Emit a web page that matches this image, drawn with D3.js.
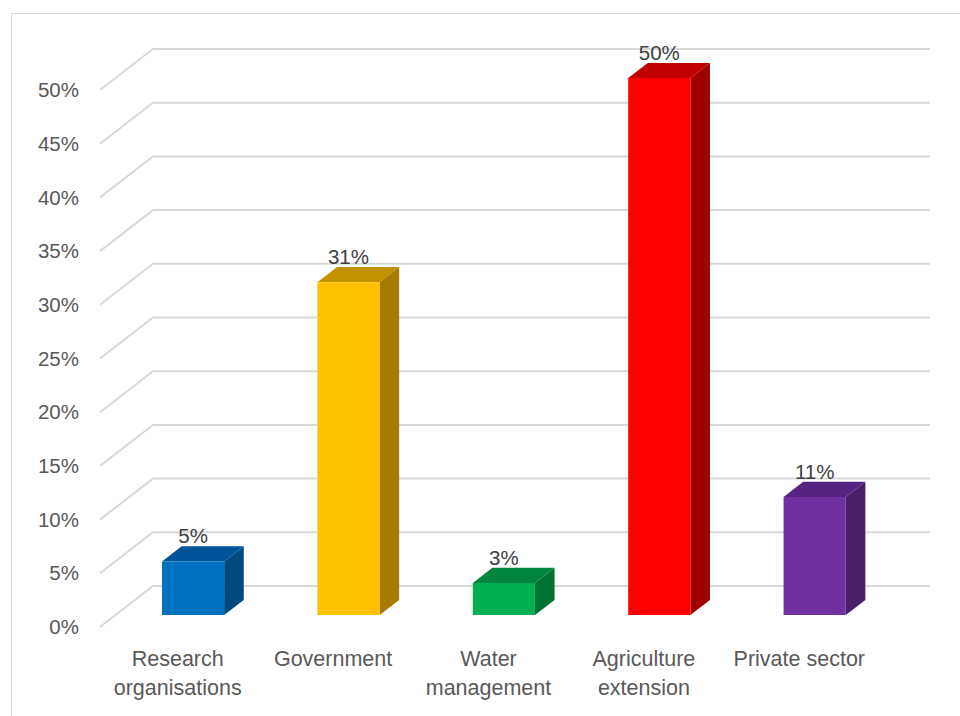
<!DOCTYPE html>
<html>
<head>
<meta charset="utf-8">
<script src="https://cdn.jsdelivr.net/npm/d3@7"></script>
<style>
  html, body { margin: 0; padding: 0; background: #fff; }
  svg { display: block; }
</style>
</head>
<body>
<svg id="chart" width="960" height="716"></svg>
<script>
// ---- data ----
const categories = ["Research organisations", "Government", "Water management", "Agriculture extension", "Private sector"];
const values = [0.05, 0.31, 0.03, 0.50, 0.11];
const valueLabels = ["5%", "31%", "3%", "50%", "11%"];
const tickValues = [0, 0.05, 0.10, 0.15, 0.20, 0.25, 0.30, 0.35, 0.40, 0.45, 0.50];
const frontColors = ["#0070C0", "#FFC000", "#00B050", "#FF0000", "#7030A0"];
const topColors   = ["#00559A", "#C49200", "#00863C", "#C00000", "#562480"];
const sideColors  = ["#004A80", "#A57B00", "#007232", "#A00000", "#4A1F6A"];

// ---- layout ----
const svg = d3.select("#chart");
const FONT = "'Liberation Sans', Arial, sans-serif";
const DX = 53, DY = 41;          // full floor depth projection
const Z0 = 0.29, Z1 = 0.66;      // bar depth range
const xLeft = 100, xRight = 877;

const x = d3.scaleBand().domain(categories).range([xLeft, xRight]).paddingInner(0.6).paddingOuter(0.3);
const xCat = d3.scaleBand().domain(categories).range([xLeft, xRight]);
const y = d3.scaleLinear().domain([0, 0.5]).range([627, 90]);

const proj = (px, v, z) => [px + z * DX, y(v) - z * DY];

// chart border
svg.append("rect").attr("x", 11.5).attr("y", 13.5).attr("width", 960).attr("height", 720)
  .attr("fill", "none").attr("stroke", "#d9d9d9").attr("stroke-width", 1);

// walls gridlines
const grid = svg.append("g");
tickValues.forEach(t => {
  const p = [proj(xLeft, t, 0), proj(xLeft, t, 1), proj(xRight, t, 1)];
  grid.append("path").attr("d", d3.line()(p))
    .attr("fill", "none").attr("stroke", "#d9d9d9").attr("stroke-width", 2);
});

// y tick labels
svg.append("g").selectAll("text").data(tickValues).join("text")
  .attr("x", 79).attr("y", d => y(d)).attr("dy", "0.35em")
  .attr("text-anchor", "end").attr("font-family", FONT).attr("font-size", 20.5)
  .attr("fill", "#595959").text(d3.format(".0%"));

// bars
const bars = svg.append("g");
categories.forEach((c, i) => {
  const v = values[i];
  const xl = x(c), xr = x(c) + x.bandwidth();
  const front = [proj(xl, 0, Z0), proj(xr, 0, Z0), proj(xr, v, Z0), proj(xl, v, Z0)];
  const top = [proj(xl, v, Z0), proj(xr, v, Z0), proj(xr, v, Z1), proj(xl, v, Z1)];
  const side = [proj(xr, 0, Z0), proj(xr, v, Z0), proj(xr, v, Z1), proj(xr, 0, Z1)];
  const poly = pts => d3.line()(pts) + "Z";
  bars.append("path").attr("d", poly(side)).attr("fill", sideColors[i]);
  bars.append("path").attr("d", poly(top)).attr("fill", topColors[i]);
  bars.append("path").attr("d", poly(front)).attr("fill", frontColors[i]);
  // value label
  const lp = proj(xl + x.bandwidth() / 2, v, Z1);
  bars.append("text").attr("x", xl + x.bandwidth() / 2 + Z0 * DX).attr("y", lp[1] - 3)
    .attr("text-anchor", "middle").attr("font-family", FONT).attr("font-size", 20.5)
    .attr("fill", "#404040").text(valueLabels[i]);
});

// category labels (wrapped)
const cat = svg.append("g");
categories.forEach(c => {
  const cx = xCat(c) + xCat.bandwidth() / 2;
  const words = c.split(" ");
  const lines = c.length > 15 ? words : [c];
  const t = cat.append("text").attr("text-anchor", "middle").attr("font-family", FONT)
    .attr("font-size", 21.5).attr("fill", "#595959");
  lines.forEach((ln, k) => {
    t.append("tspan").attr("x", cx).attr("y", 658 + k * 29).attr("dy", "0.35em").text(ln);
  });
});
</script>
</body>
</html>
